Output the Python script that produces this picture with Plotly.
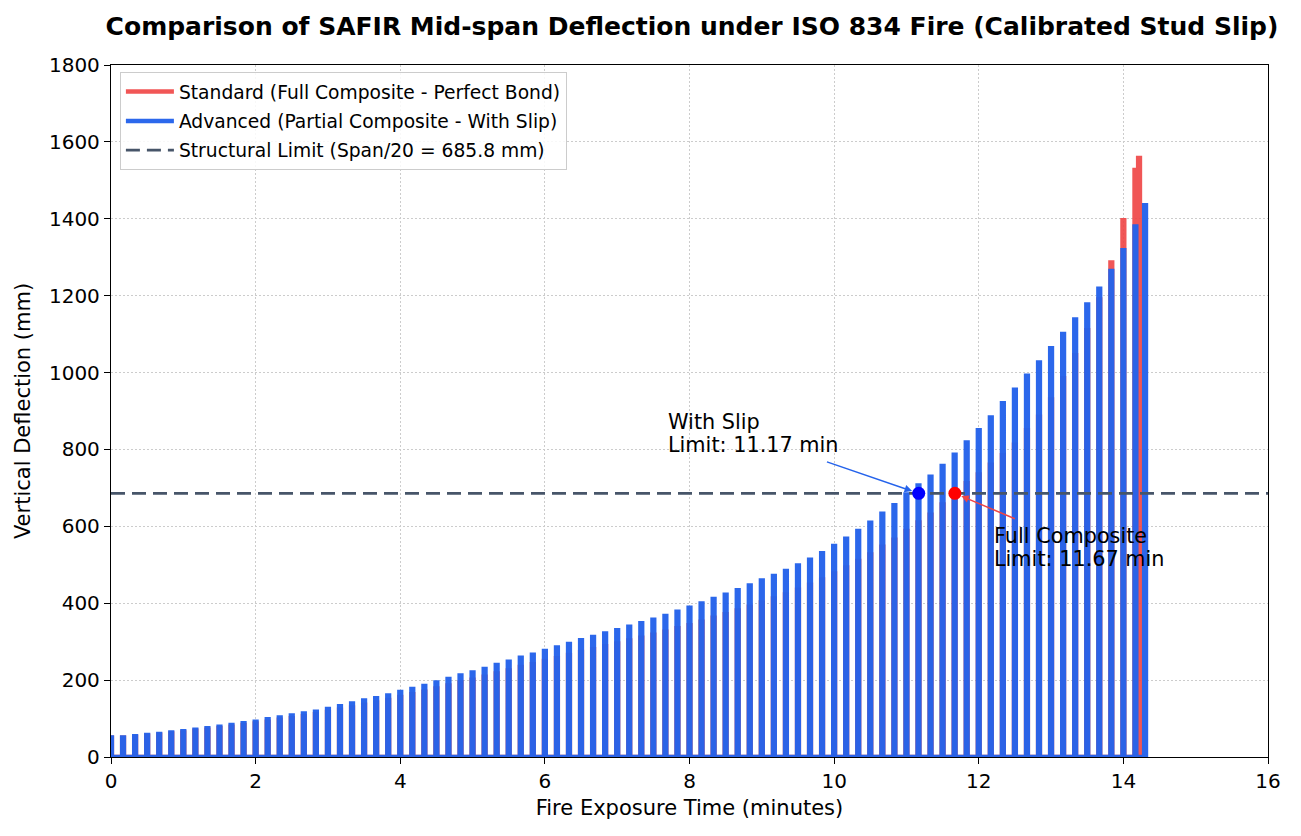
import plotly.graph_objects as go

# sampling times (seconds) - SAFIR output every 10 s, last step shortened
TIME_S = list(range(0, 860, 10))
TIME_S_SLIP_END = 858
TIME_S_FULL_END = 853

# mid-span deflection (mm)
defl_slip = [
    51, 51, 54, 57, 60, 64, 67, 71, 75, 79, 83, 88, 92, 98, 103, 108, 113, 118,
    125, 132, 139, 147, 153, 160, 169, 177, 185, 194, 203, 212, 220, 229, 239, 248,
    258, 266, 276, 285, 294, 304, 312, 321, 330, 339, 348, 357, 367, 378, 388, 399,
    411, 422, 434, 446, 459, 471, 484, 498, 513, 530, 549, 568, 588, 609, 633, 655,
    683, 706, 729, 757, 786, 818, 850, 883, 920, 955, 992, 1026, 1063, 1100, 1138,
    1177, 1218, 1264, 1318, 1380, 1435,
]
defl_full = [
    50, 50, 52, 55, 58, 61, 64, 68, 71, 75, 79, 83, 87, 92, 97, 101, 106, 111,
    117, 123, 129, 136, 142, 148, 156, 163, 170, 178, 186, 194, 201, 209, 217, 225,
    234, 241, 250, 257, 265, 273, 280, 288, 295, 303, 310, 318, 326, 335, 343, 352,
    362, 371, 381, 391, 402, 412, 423, 435, 448, 462, 477, 493, 510, 527, 547, 565,
    588, 610, 630, 657, 686, 712, 735, 760, 785, 812, 850, 885, 930, 985, 1045,
    1110, 1190, 1286, 1396, 1527, 1558,
]

LIMIT_MM = 685.8
t_limit_slip = 11.17
t_limit_full = 11.67

BLUE = "#2563EB"
RED = "#EF4444"
SLATE = "#475569"
FONT = "DejaVu Sans"


def spike_path(times_min, values, half_width):
    # every sample is drawn as a narrow spike back down to zero
    xs, ys = [], []
    for t, v in zip(times_min, values):
        xs += [t - half_width, t - half_width, t + half_width, t + half_width]
        ys += [0, v, v, 0]
    return xs, ys


t_slip = [s / 60 for s in TIME_S + [TIME_S_SLIP_END]]
t_full = [s / 60 for s in TIME_S + [TIME_S_FULL_END]]

x_full, y_full = spike_path(t_full, defl_full, 0.012)
x_slip, y_slip = spike_path(t_slip, defl_slip, 0.012)

fig = go.Figure()

fig.add_trace(go.Scatter(
    x=x_full, y=y_full, mode="lines", name="Standard (Full Composite - Perfect Bond)",
    legendgroup="a", line=dict(color=RED, width=4.5), opacity=0.9, hoverinfo="skip",
))
fig.add_trace(go.Scatter(
    x=x_slip, y=y_slip, mode="lines", name="Advanced (Partial Composite - With Slip)",
    legendgroup="b", line=dict(color=BLUE, width=4.5), opacity=0.97, hoverinfo="skip",
))
fig.add_trace(go.Scatter(
    x=[0, 16], y=[LIMIT_MM, LIMIT_MM], mode="lines", legendgroup="c",
    name="Structural Limit (Span/20 = 685.8 mm)",
    line=dict(color=SLATE, width=2.7, dash="14px,7px"),
))
fig.add_trace(go.Scatter(
    x=[t_limit_slip], y=[LIMIT_MM], mode="markers", showlegend=False,
    marker=dict(color="#0000FF", size=13),
))
fig.add_trace(go.Scatter(
    x=[t_limit_full], y=[LIMIT_MM], mode="markers", showlegend=False,
    marker=dict(color="#FF0000", size=13),
))

# arrows
fig.add_annotation(x=t_limit_slip, y=LIMIT_MM, ax=9.88, ay=769, xref="x", yref="y",
                   axref="x", ayref="y", text="", showarrow=True, arrowhead=2,
                   arrowsize=1, arrowwidth=1.5, arrowcolor=BLUE, standoff=7)
fig.add_annotation(x=t_limit_full, y=LIMIT_MM, ax=12.52, ay=618, xref="x", yref="y",
                   axref="x", ayref="y", text="", showarrow=True, arrowhead=2,
                   arrowsize=1, arrowwidth=1.5, arrowcolor=RED, standoff=7)
# labels, one annotation per text line
label_lines = [
    (7.67, 872, "With Slip"),
    (7.67, 812, "Limit: 11.17 min"),
    (12.18, 575, "Full Composite"),
    (12.18, 515, "Limit: 11.67 min"),
]
for lx, ly, txt in label_lines:
    fig.add_annotation(x=lx, y=ly, xref="x", yref="y", showarrow=False, text=txt,
                       xanchor="left", yanchor="middle",
                       font=dict(family=FONT, size=20.8, color="black"))

axis_common = dict(
    showline=True, linecolor="black", linewidth=1.3, mirror=True,
    ticks="outside", ticklen=6, tickwidth=1.3, tickcolor="black",
    showgrid=True, gridcolor="#cccccc", gridwidth=1, griddash="1.5px,2.5px",
    zeroline=False, tickfont=dict(family=FONT, size=20, color="black"),
)

# the page adds an 8 px body margin, so the figure is drawn 16 px smaller
fig.update_layout(
    width=1285, height=820,
    margin=dict(l=103, r=20, t=57, b=70),
    paper_bgcolor="white", plot_bgcolor="white",
    font=dict(family=FONT, color="black"),
    title=dict(
        text="<b>Comparison of SAFIR Mid-span Deflection under ISO 834 Fire (Calibrated Stud Slip)</b>",
        x=0.5323, xanchor="center", y=0.978, yanchor="middle",
        font=dict(family=FONT, size=25, color="black"),
    ),
    xaxis=dict(range=[0, 16], dtick=2,
               title=dict(text="Fire Exposure Time (minutes)", standoff=8,
                          font=dict(family=FONT, size=21)),
               **axis_common),
    yaxis=dict(range=[0, 1800], dtick=200,
               title=dict(text="Vertical Deflection (mm)", standoff=12,
                          font=dict(family=FONT, size=21)),
               **axis_common),
    legend=dict(x=0.0077, y=0.99, xanchor="left", yanchor="top",
                bgcolor="rgba(255,255,255,0.85)", bordercolor="#cccccc", borderwidth=1,
                tracegroupgap=2, itemwidth=48, font=dict(family=FONT, size=18.7)),
    showlegend=True,
)

fig.write_html("out.html")
